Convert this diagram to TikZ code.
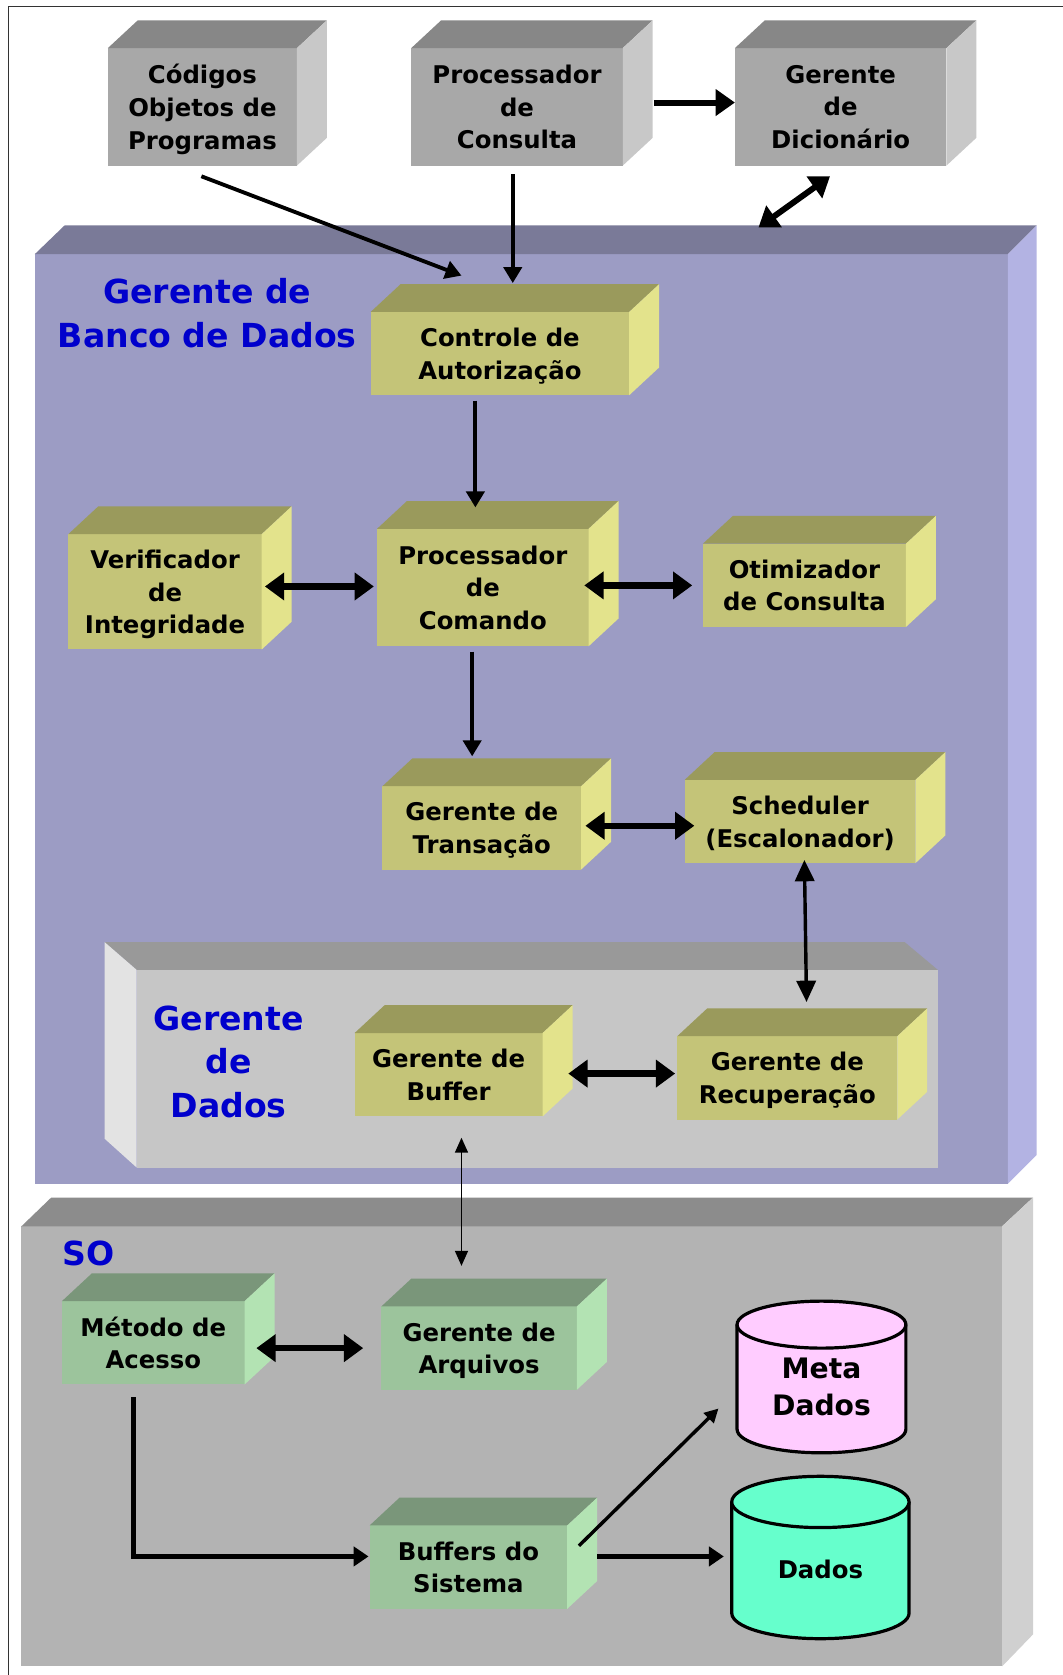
\documentclass[tikz,border=0pt]{standalone}
\usepackage{fontspec}
\setmainfont{DejaVu Sans}
\usetikzlibrary{arrows.meta}

% face colours
\definecolor{pfront}{HTML}{9C9CC4}\definecolor{ptop}{HTML}{7A7A98}\definecolor{pside}{HTML}{B3B3E3}
\definecolor{yfront}{HTML}{C4C478}\definecolor{ytop}{HTML}{9A9A5C}\definecolor{yside}{HTML}{E3E38C}
\definecolor{gfront}{HTML}{9CC49C}\definecolor{gtop}{HTML}{7A967A}\definecolor{gside}{HTML}{B3E3B3}
\definecolor{kfront}{HTML}{A8A8A8}\definecolor{ktop}{HTML}{878787}\definecolor{kside}{HTML}{C8C8C8}
\definecolor{dfront}{HTML}{C6C6C6}\definecolor{dtop}{HTML}{999999}\definecolor{dside}{HTML}{E3E3E3}
\definecolor{sfront}{HTML}{B3B3B3}\definecolor{stop}{HTML}{8C8C8C}\definecolor{sside}{HTML}{D0D0D0}
\definecolor{metafill}{HTML}{FFCCFF}\definecolor{datafill}{HTML}{66FFCC}
\definecolor{titleblue}{HTML}{0000CC}

% top and right faces of a small block, drawn behind its front face
\newcommand\blocksides[3]{%
  \fill[#2] (#1.north west) -- ++(28,-26) -- ([shift={(28,-26)}]#1.north east) -- (#1.north east) -- cycle;
  \fill[#3] (#1.north east) -- ++(28,-26) -- ([shift={(28,-26)}]#1.south east) -- (#1.south east) -- cycle;
}

\tikzset{
  face/.style={inner sep=0pt, outer sep=0pt, align=center, text depth=0pt,
    font=\bfseries\fontsize{11.4}{15.3}\selectfont},
  title/.style={align=center, text=titleblue, inner sep=0pt,
    font=\bfseries\fontsize{15.5}{20.5}\selectfont},
  tip/.style={line width=1.8pt, -{Triangle[length=7.5pt,width=8.5pt]}},
  fatdbl/.style={line width=3pt, {Triangle[length=9pt,width=12.5pt]}-{Triangle[length=9pt,width=12.5pt]}},
  fattip/.style={line width=2.8pt, -{Triangle[length=9pt,width=12pt]}},
  middbl/.style={line width=1.6pt, {Triangle[length=10pt,width=9pt]}-{Triangle[length=10pt,width=9pt]}},
  thindbl/.style={line width=0.9pt, {Triangle[length=7pt,width=6pt]}-{Triangle[length=7pt,width=6pt]}},
  flowtip/.style={line width=2.5pt, -{Triangle[length=7pt,width=9pt]}},
  slimtip/.style={line width=1.6pt, -{Triangle[length=6.5pt,width=6.5pt]}},
  drum/.style={line width=1.5pt},
}

\begin{document}
\begin{tikzpicture}[x=0.5pt,y=-0.5pt]
\useasboundingbox (0,0) rectangle (995,1568);
\fill[white] (0,0) rectangle (995,1568);

% page frame
\draw[line width=0.8pt, black!80] (8,1568) -- (8,6) -- (995,6);

% ---- Gerente de Banco de Dados ----
\node[face, fill=pfront, minimum width=455.5pt, minimum height=435pt] (gbd) at (488,673) {};
\fill[ptop] (gbd.north west) -- ++(28,-27) -- ([shift={(27,-27)}]gbd.north east) -- (gbd.north east) -- cycle;
\fill[pside] (gbd.north east) -- ++(27,-27) -- ([shift={(27,-27)}]gbd.south east) -- (gbd.south east) -- cycle;
\node[title] (tgbd) at (194,293) {Gerente de\\Banco de Dados};

% ---- Gerente de Dados (recessed panel) ----
\node[face, fill=dfront, minimum width=375pt, minimum height=92.5pt] (gdd) at (503,1000.5) {};
\fill[dtop] (gdd.north west) -- ++(-30,-26) -- ([shift={(-31,-26)}]gdd.north east) -- (gdd.north east) -- cycle;
\fill[dside] (gdd.north west) -- ++(-30,-26) -- ([shift={(-30,-27)}]gdd.south west) -- (gdd.south west) -- cycle;
\node[title] (tgdd) at (214,994) {Gerente\\de\\Dados};

% ---- SO ----
\node[face, fill=sfront, minimum width=459pt, minimum height=206pt] (so) at (479,1354) {};
\fill[stop] (so.north west) -- ++(28,-27) -- ([shift={(29,-27)}]so.north east) -- (so.north east) -- cycle;
\fill[sside] (so.north east) -- ++(29,-27) -- ([shift={(29,-30)}]so.south east) -- (so.south east) -- cycle;
\node[title] (tso) at (83,1173) {SO};

% ---- top row ----
\node[face, fill=kfront, minimum width=88.5pt, minimum height=55pt] (cod) at (189.5,100) {Códigos\\Objetos de\\Programas};
\blocksides{cod}{ktop}{kside}
\node[face, fill=kfront, minimum width=99pt, minimum height=55pt] (pcons) at (484,100) {Processador\\de\\Consulta};
\blocksides{pcons}{ktop}{kside}
\node[face, fill=kfront, minimum width=99pt, minimum height=55pt] (gdic) at (787,100) {Gerente\\de\\Dicionário};
\blocksides{gdic}{ktop}{kside}

% ---- query processing blocks ----
\node[face, fill=yfront, minimum width=121pt, minimum height=39pt] (ctrl) at (468,331) {Controle de\\Autorização};
\blocksides{ctrl}{ytop}{yside}
\node[face, fill=yfront, minimum width=90.5pt, minimum height=54pt] (verif) at (154.5,554) {Verificador\\de\\Integridade};
\blocksides{verif}{ytop}{yside}
\node[face, fill=yfront, minimum width=99pt, minimum height=55pt] (pcom) at (452,550) {Processador\\de\\Comando};
\blocksides{pcom}{ytop}{yside}
\node[face, fill=yfront, minimum width=95pt, minimum height=39pt] (otim) at (753,548) {Otimizador\\de Consulta};
\blocksides{otim}{ytop}{yside}
\node[face, fill=yfront, minimum width=93pt, minimum height=39pt] (gtran) at (451,775) {Gerente de\\Transação};
\blocksides{gtran}{ytop}{yside}
\node[face, fill=yfront, minimum width=108pt, minimum height=39pt] (sched) at (749,769) {Scheduler\\(Escalonador)};
\blocksides{sched}{ytop}{yside}
\node[face, fill=yfront, minimum width=88pt, minimum height=39pt] (gbuf) at (420,1006) {Gerente de\\Buffer};
\blocksides{gbuf}{ytop}{yside}
\node[face, fill=yfront, minimum width=103pt, minimum height=39pt] (grec) at (737,1009) {Gerente de\\Recuperação};
\blocksides{grec}{ytop}{yside}

% ---- operating system blocks ----
\node[face, fill=gfront, minimum width=85.5pt, minimum height=39pt] (metodo) at (143.5,1257) {Método de\\Acesso};
\blocksides{metodo}{gtop}{gside}
\node[face, fill=gfront, minimum width=91.5pt, minimum height=39pt] (garq) at (448.5,1262) {Gerente de\\Arquivos};
\blocksides{garq}{gtop}{gside}
\node[face, fill=gfront, minimum width=92.5pt, minimum height=39pt] (bufsis) at (438.5,1467) {Buffers do\\Sistema};
\blocksides{bufsis}{gtop}{gside}

% ---- storage drums ----
\fill[metafill] (690,1240) -- (690,1338) arc[start angle=180, end angle=360, x radius=39.5pt, y radius=11pt] -- (848,1240) -- cycle;
\draw[drum] (690,1240) -- (690,1338) arc[start angle=180, end angle=360, x radius=39.5pt, y radius=11pt] -- (848,1240);
\draw[drum, fill=metafill] (769,1240) ellipse[x radius=39.5pt, y radius=11pt];
\node[inner sep=0pt, minimum width=79pt, minimum height=71.5pt, align=center,
  font=\bfseries\fontsize{13.2}{17.5}\selectfont] (meta) at (769,1298.5) {Meta\\Dados};

\fill[datafill] (685,1406) -- (685,1510) arc[start angle=180, end angle=360, x radius=41.5pt, y radius=12pt] -- (851,1406) -- cycle;
\draw[drum] (685,1406) -- (685,1510) arc[start angle=180, end angle=360, x radius=41.5pt, y radius=12pt] -- (851,1406);
\draw[drum, fill=datafill] (768,1406) ellipse[x radius=41.5pt, y radius=12pt];
\node[inner sep=0pt, minimum width=83pt, minimum height=76pt, align=center,
  font=\bfseries\fontsize{11.4}{15}\selectfont] (dados) at (768,1469) {Dados};

% ---- connectors ----
\draw[tip] ([shift={(-1,10)}]cod.south) -- ([shift={(-36,-34)}]ctrl.north);
\draw[tip] ([shift={(-4,8)}]pcons.south) -- ([shift={(12,-27)}]ctrl.north);
\draw[fattip] ([shift={(29,-4)}]pcons.east) -- ([shift={(0,-4)}]gdic.west);
\draw[line width=2.8pt, {Triangle[length=9pt,width=12pt]}-{Triangle[length=9pt,width=12pt]}]
  ([shift={(222,-25)}]gbd.north) -- ([shift={(-10,10)}]gdic.south);
\draw[tip] ([shift={(-23,5)}]ctrl.south) -- ([shift={(-7,-20)}]pcom.north);
\draw[fatdbl] ([shift={(3,-5)}]verif.east) -- ([shift={(-3,-1)}]pcom.west);
\draw[fatdbl] ([shift={(-4,-2)}]pcom.east) -- ([shift={(-10,0)}]otim.west);
\draw[tip] ([shift={(-10,5)}]pcom.south) -- ([shift={(-9,-28)}]gtran.north);
\draw[fatdbl] ([shift={(4,-2)}]gtran.east) -- ([shift={(9,4)}]sched.west);
\draw[middbl] ([shift={(4,-3)}]sched.south) -- ([shift={(18,-32)}]grec.north);
\draw[fatdbl] ([shift={(24,-1)}]gbuf.east) -- ([shift={(-2,-4)}]grec.west);
\draw[thindbl] ([shift={(12,20)}]gbuf.south) -- ([shift={(-16.5,-38)}]garq.north);
\draw[fatdbl] ([shift={(11,5)}]metodo.east) -- ([shift={(-17,0)}]garq.west);
\draw[flowtip] ([shift={(-18.5,12)}]metodo.south) |- ([shift={(-1,-10)}]bufsis.west);
\draw[flowtip] ([shift={(28,-10)}]bufsis.east) -- ([shift={(-7,-12)}]dados.west);
\draw[slimtip] ([shift={(11,-20)}]bufsis.east) -- ([shift={(-17,20)}]meta.west);

\end{tikzpicture}
\end{document}
